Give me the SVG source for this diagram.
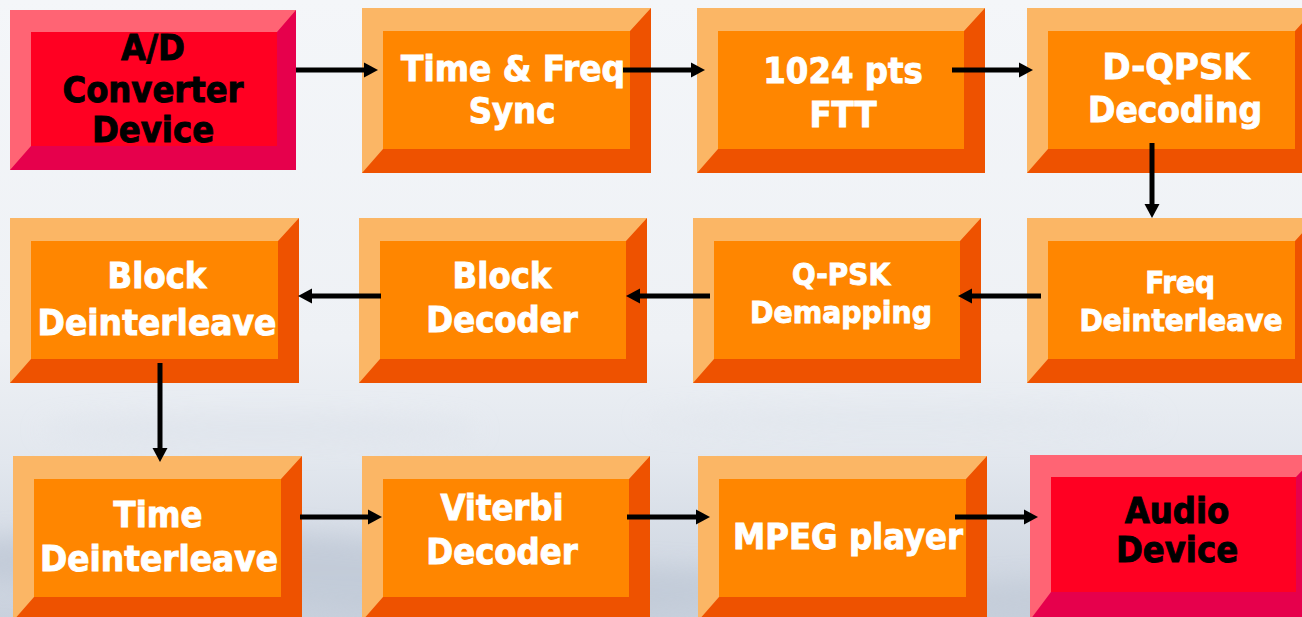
<svg xmlns="http://www.w3.org/2000/svg" width="1302" height="617" viewBox="0 0 1302 617">
<defs>
<linearGradient id="bg" x1="0" y1="0" x2="0" y2="1">
<stop offset="0" stop-color="#f4f6f9"/>
<stop offset="0.55" stop-color="#eef1f5"/>
<stop offset="0.75" stop-color="#e2e7ee"/>
<stop offset="1" stop-color="#c9d1dd"/>
</linearGradient>
<filter id="blur" x="-50%" y="-50%" width="200%" height="200%"><feGaussianBlur stdDeviation="12"/></filter>
<marker id="ah" markerUnits="userSpaceOnUse" markerWidth="16" markerHeight="16" refX="1" refY="7.5" orient="auto" overflow="visible">
<path d="M0,0 L14,7.5 L0,15 Z" fill="#000"/>
</marker>
<style>
.od{fill:#ee5200}.ol{fill:#fbb665}.oi{fill:#ff8600}
.rd{fill:#e6004c}.rl{fill:#ff6474}.ri{fill:#ff0022}
.t{font-family:"DejaVu Sans Condensed","DejaVu Sans",sans-serif;font-stretch:condensed;font-weight:bold;text-anchor:middle;font-size:36px;fill:#fff;stroke:#fff;stroke-width:0.9}
.tb{fill:#000;stroke:#000}
.s{font-size:31px}
.c{fill:none;stroke:#000;stroke-width:5;marker-end:url(#ah)}
</style>
</defs>
<rect width="1302" height="617" fill="url(#bg)"/>
<g filter="url(#blur)" opacity="0.6">
<ellipse cx="180" cy="560" rx="260" ry="30" fill="#b9c3d2"/>
<ellipse cx="520" cy="590" rx="300" ry="25" fill="#bcc6d4"/>
<ellipse cx="1150" cy="600" rx="240" ry="22" fill="#c0c9d6"/>
<ellipse cx="260" cy="430" rx="220" ry="14" fill="#dde2ea"/>
<ellipse cx="900" cy="420" rx="260" ry="12" fill="#e0e5ec"/>
</g>

<g id="n1">
<rect class="rd" x="10" y="10" width="286" height="160"/>
<polygon class="rl" points="10,10 296,10 277,32 31,32 31,146 10,170"/>
<rect class="ri" x="31" y="32" width="246" height="114"/>
<text class="t tb" x="153" y="60">A/D</text>
<text class="t tb" x="153" y="102" textLength="181" lengthAdjust="spacingAndGlyphs">Converter</text>
<text class="t tb" x="153" y="142">Device</text>
</g>
<g id="n2">
<rect class="od" x="362" y="8" width="289" height="165"/>
<polygon class="ol" points="362,8 651,8 630,31 383,31 383,149 362,173"/>
<rect class="oi" x="383" y="31" width="247" height="118"/>
<text class="t" x="513" y="81" textLength="224" lengthAdjust="spacingAndGlyphs">Time &amp; Freq</text>
<text class="t" x="512" y="123">Sync</text>
</g>
<g id="n3">
<rect class="od" x="697" y="8" width="288" height="165"/>
<polygon class="ol" points="697,8 985,8 964,31 718,31 718,149 697,173"/>
<rect class="oi" x="718" y="31" width="246" height="118"/>
<text class="t" x="843" y="83">1024 pts</text>
<text class="t" x="843" y="127">FTT</text>
</g>
<g id="n4">
<rect class="od" x="1027" y="8" width="289" height="165"/>
<polygon class="ol" points="1027,8 1316,8 1295,31 1048,31 1048,149 1027,173"/>
<rect class="oi" x="1048" y="31" width="247" height="118"/>
<text class="t" x="1176" y="79" textLength="147" lengthAdjust="spacingAndGlyphs">D-QPSK</text>
<text class="t" x="1175" y="122" textLength="174" lengthAdjust="spacingAndGlyphs">Decoding</text>
</g>

<g id="n5">
<rect class="od" x="1027" y="218" width="289" height="165"/>
<polygon class="ol" points="1027,218 1316,218 1295,241 1048,241 1048,359 1027,383"/>
<rect class="oi" x="1048" y="241" width="247" height="118"/>
<text class="t s" x="1180" y="293">Freq</text>
<text class="t s" x="1181" y="331" textLength="203" lengthAdjust="spacingAndGlyphs">Deinterleave</text>
</g>
<g id="n6">
<rect class="od" x="693" y="218" width="288" height="165"/>
<polygon class="ol" points="693,218 981,218 960,241 714,241 714,359 693,383"/>
<rect class="oi" x="714" y="241" width="246" height="118"/>
<text class="t s" x="841" y="285">Q-PSK</text>
<text class="t s" x="841" y="323" textLength="182" lengthAdjust="spacingAndGlyphs">Demapping</text>
</g>
<g id="n7">
<rect class="od" x="359" y="218" width="288" height="165"/>
<polygon class="ol" points="359,218 647,218 626,241 380,241 380,359 359,383"/>
<rect class="oi" x="380" y="241" width="246" height="118"/>
<text class="t" x="502" y="288">Block</text>
<text class="t" x="502" y="332">Decoder</text>
</g>
<g id="n8">
<rect class="od" x="10" y="218" width="289" height="165"/>
<polygon class="ol" points="10,218 299,218 278,241 31,241 31,359 10,383"/>
<rect class="oi" x="31" y="241" width="247" height="118"/>
<text class="t" x="157" y="288">Block</text>
<text class="t" x="157" y="335" textLength="239" lengthAdjust="spacingAndGlyphs">Deinterleave</text>
</g>

<g id="n9">
<rect class="od" x="13" y="456" width="289" height="165"/>
<polygon class="ol" points="13,456 302,456 281,479 34,479 34,597 13,621"/>
<rect class="oi" x="34" y="479" width="247" height="118"/>
<text class="t" x="158" y="527">Time</text>
<text class="t" x="159" y="571" textLength="238" lengthAdjust="spacingAndGlyphs">Deinterleave</text>
</g>
<g id="n10">
<rect class="od" x="362" y="456" width="288" height="165"/>
<polygon class="ol" points="362,456 650,456 629,479 383,479 383,597 362,621"/>
<rect class="oi" x="383" y="479" width="246" height="118"/>
<text class="t" x="502" y="520">Viterbi</text>
<text class="t" x="502" y="564">Decoder</text>
</g>
<g id="n11">
<rect class="od" x="698" y="456" width="289" height="165"/>
<polygon class="ol" points="698,456 987,456 966,479 719,479 719,597 698,621"/>
<rect class="oi" x="719" y="479" width="247" height="118"/>
<text class="t" x="848" y="549">MPEG player</text>
</g>
<g id="n12">
<rect class="rd" x="1030" y="455" width="287" height="165"/>
<polygon class="rl" points="1030,455 1317,455 1296,477 1051,477 1051,592 1030,620"/>
<rect class="ri" x="1051" y="477" width="245" height="115"/>
<text class="t tb" x="1177" y="523">Audio</text>
<text class="t tb" x="1177" y="562">Device</text>
</g>

<g id="connectors">
<line class="c" x1="296" y1="70" x2="365" y2="70"/>
<line class="c" x1="623" y1="70" x2="692" y2="70"/>
<line class="c" x1="952" y1="70" x2="1020" y2="70"/>
<line class="c" x1="1152" y1="143" x2="1152" y2="205"/>
<line class="c" x1="1041" y1="296" x2="971" y2="296"/>
<line class="c" x1="710" y1="296" x2="639" y2="296"/>
<line class="c" x1="381" y1="296" x2="311" y2="296"/>
<line class="c" x1="160" y1="363" x2="160" y2="449"/>
<line class="c" x1="300" y1="517" x2="369" y2="517"/>
<line class="c" x1="627" y1="517" x2="697" y2="517"/>
<line class="c" x1="955" y1="517" x2="1025" y2="517"/>
</g>
</svg>
